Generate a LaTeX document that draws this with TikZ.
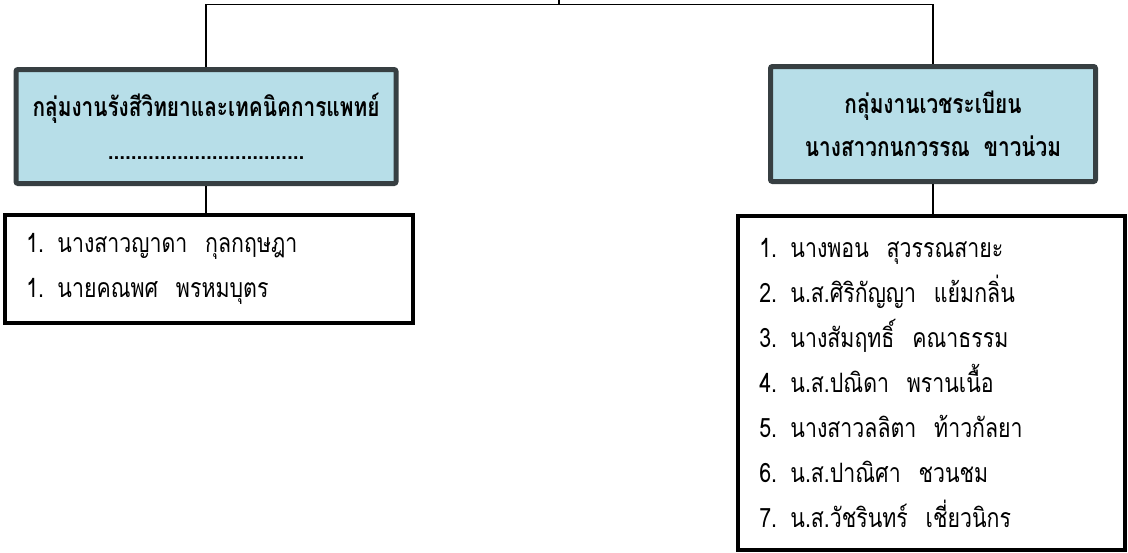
\documentclass[tikz,border=0pt]{standalone}
\usepackage{fontspec}
\newfontfamily\thaifont[Script=Thai, FakeStretch=0.8]{Loma}
\newfontfamily\thaihead[Script=Thai, FakeStretch=0.78]{Loma}
\usepackage{xcolor}
\definecolor{headblue}{RGB}{183,222,232}
\definecolor{headedge}{RGB}{55,63,66}
\usepackage{tikz}
\usetikzlibrary{positioning}

\begin{document}
\begin{tikzpicture}[x=0.75pt, y=-0.75pt,
    headbox/.style={rectangle, fill=headblue, draw=headedge, line width=3.75pt,
      rounded corners=1.5pt, align=center,
      font={\thaihead\bfseries\fontsize{20pt}{32pt}\selectfont}},
    listbox/.style={rectangle, draw=black, line width=3pt, fill=white,
      align=left, inner xsep=16pt, inner ysep=0pt,
      font={\thaifont\fontsize{20pt}{33.75pt}\selectfont}},
    conn/.style={draw=black, line width=1pt}]
  \useasboundingbox (0,0) rectangle (1128,553);

  % top link
  \coordinate (top) at (559,0);
  \coordinate (bar) at (559,4.5);

  % Box 1
  \node[headbox, minimum width=285pt, minimum height=85.5pt] (radhead) at (206,126.5)
       {กลุ่มงานรังสีวิทยาและเทคนิคการแพทย์\\ ..................................};
  \node[listbox, minimum width=306pt, minimum height=81pt, text width=274pt] (radlist) at (209,269)
       {1. นางสาวญาดา~~กุลกฤษฎา\\ 1. นายคณพศ~~พรหมบุตร};

  % Box 2
  \node[headbox, minimum width=243.75pt, minimum height=86.25pt] (medhead) at (933,124)
       {กลุ่มงานเวชระเบียน\\ นางสาวกนกวรรณ~~ขาวน่วม};
  \node[listbox, minimum width=290.25pt, minimum height=250.5pt, text width=258.25pt] (medlist) at (931.5,383)
       {1. นางพอน~~สุวรรณสายะ\\
        2. น.ส.ศิริกัญญา~~แย้มกลิ่น\\
        3. นางสัมฤทธิ์~~คณาธรรม\\
        4. น.ส.ปณิดา~~พรานเนื้อ\\
        5. นางสาวลลิตา~~ท้าวกัลยา\\
        6. น.ส.ปาณิศา~~ชวนชม\\
        7. น.ส.วัชรินทร์~~เชี่ยวนิกร};

  % connectors
  \draw[conn] (top) -- (bar);
  \draw[conn] (radhead.north) |- (bar) -| (medhead.north);
  \draw[conn] (radhead.south) -- (radhead.south |- radlist.north);
  \draw[conn] (medhead.south) -- (medhead.south |- medlist.north);
\end{tikzpicture}
\end{document}
